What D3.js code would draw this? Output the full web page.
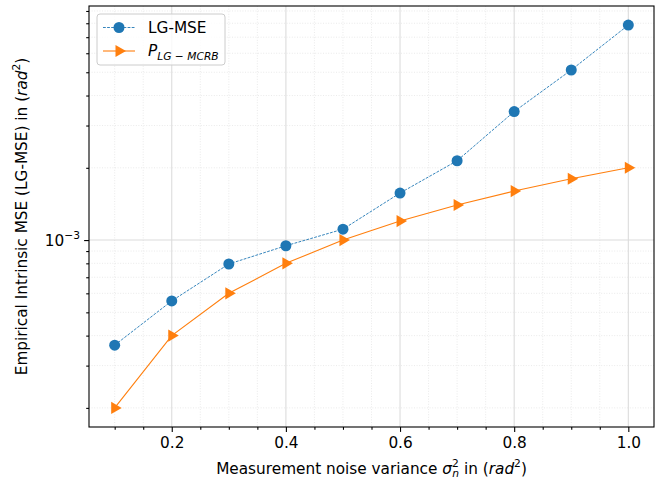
<!DOCTYPE html>
<html>
<head>
<meta charset="utf-8">
<script src="https://cdn.jsdelivr.net/npm/d3@7"></script>
<style>
  body { margin: 0; background: #fff; }
  text { font-family: "DejaVu Sans", sans-serif; fill: #000; }
</style>
</head>
<body>
<div id="chart"></div>
<script>
// noise variance values (x)
var sigma2 = [0.1, 0.2, 0.3, 0.4, 0.5, 0.6, 0.7, 0.8, 0.9, 1.0];
// LG-MSE series
var lgMse = [3.65e-4, 5.58e-4, 7.95e-4, 9.47e-4, 1.11e-3, 1.57e-3, 2.14e-3, 3.43e-3, 5.11e-3, 7.86e-3];
// P_LG-MCRB series
var lgMcrb = [2.0e-4, 4.0e-4, 6.0e-4, 8.0e-4, 1.0e-3, 1.2e-3, 1.4e-3, 1.6e-3, 1.8e-3, 2.0e-3];
var xTicks = [0.2, 0.4, 0.6, 0.8, 1.0];
var xMinor = [0.1, 0.15, 0.25, 0.3, 0.35, 0.45, 0.5, 0.55, 0.65, 0.7, 0.75, 0.85, 0.9, 0.95];
var yTicks = [1e-3];
var yMinor = [2e-4, 3e-4, 4e-4, 5e-4, 6e-4, 7e-4, 8e-4, 9e-4, 2e-3, 3e-3, 4e-3, 5e-3, 6e-3, 7e-3, 8e-3, 9e-3];

var W = 663, H = 483;
var margin = { top: 6, right: 9, bottom: 56, left: 89 };
var width = W - margin.left - margin.right;
var height = H - margin.top - margin.bottom;
var fs = 15.3, fsSmall = 10.7;

var svg = d3.select("#chart").append("svg")
    .attr("width", W).attr("height", H);
var g = svg.append("g")
    .attr("transform", "translate(" + margin.left + "," + margin.top + ")");

var xScale = d3.scaleLinear().domain([0.055, 1.045]).range([0, width]);
var yScale = d3.scaleLog().domain([1.665e-4, 9.44e-3]).range([height, 0]);

// minor grid
g.append("g").selectAll("line").data(xMinor).join("line")
    .attr("x1", d => xScale(d)).attr("x2", d => xScale(d))
    .attr("y1", 0).attr("y2", height)
    .attr("stroke", "#e4e4e4").attr("stroke-width", 0.8)
    .attr("stroke-dasharray", "1,1.6");
g.append("g").selectAll("line").data(yMinor).join("line")
    .attr("y1", d => yScale(d)).attr("y2", d => yScale(d))
    .attr("x1", 0).attr("x2", width)
    .attr("stroke", "#e4e4e4").attr("stroke-width", 0.8)
    .attr("stroke-dasharray", "1,1.6");
// major grid
g.append("g").selectAll("line").data(xTicks).join("line")
    .attr("x1", d => xScale(d)).attr("x2", d => xScale(d))
    .attr("y1", 0).attr("y2", height)
    .attr("stroke", "#dcdcdc").attr("stroke-width", 1.1);
g.append("g").selectAll("line").data(yTicks).join("line")
    .attr("y1", d => yScale(d)).attr("y2", d => yScale(d))
    .attr("x1", 0).attr("x2", width)
    .attr("stroke", "#dcdcdc").attr("stroke-width", 1.1);

// axes
var xAxis = g.append("g").attr("transform", "translate(0," + height + ")")
    .call(d3.axisBottom(xScale).tickValues(xTicks).tickFormat(d3.format(".1f"))
        .tickSize(4.9).tickPadding(4.9).tickSizeOuter(0));
var xAxisMinor = g.append("g").attr("transform", "translate(0," + height + ")")
    .call(d3.axisBottom(xScale).tickValues(xMinor).tickFormat("").tickSize(2.8).tickSizeOuter(0));
var yAxis = g.append("g")
    .call(d3.axisLeft(yScale).tickValues(yTicks).tickFormat("")
        .tickSize(4.9).tickSizeOuter(0));
var yAxisMinor = g.append("g")
    .call(d3.axisLeft(yScale).tickValues(yMinor).tickFormat("").tickSize(2.8).tickSizeOuter(0));
[xAxis, xAxisMinor, yAxis, yAxisMinor].forEach(function (a) {
    a.select(".domain").remove();
    a.selectAll(".tick line").attr("stroke", "#000").attr("stroke-width", 1.1);
    a.selectAll(".tick text").style("font-size", fs + "px")
        .style("font-family", "DejaVu Sans, sans-serif").attr("fill", "#000");
});

// 10^-3 label
var ylab = g.append("text")
    .attr("x", -9).attr("y", yScale(1e-3) + 5.5)
    .attr("text-anchor", "end")
    .style("font-size", fs + "px");
ylab.append("tspan").text("10");
ylab.append("tspan").attr("dy", -7).style("font-size", fsSmall + "px").text("\u22123");

// series lines
var line = d3.line().x(d => xScale(d[0])).y(d => yScale(d[1]));
var blueData = sigma2.map((s, i) => [s, lgMse[i]]);
var orangeData = sigma2.map((s, i) => [s, lgMcrb[i]]);

g.append("path").datum(orangeData).attr("d", line)
    .attr("fill", "none").attr("stroke", "#ff7f0e").attr("stroke-width", 1.1);
g.append("path").datum(blueData).attr("d", line)
    .attr("fill", "none").attr("stroke", "#1f77b4").attr("stroke-width", 0.9)
    .attr("stroke-dasharray", "2.8,1.3");

function triPath(cx, cy, r) {
    return "M" + (cx + r) + "," + cy + "L" + (cx - r * 0.5) + "," + (cy - r * 0.866) +
        "L" + (cx - r * 0.5) + "," + (cy + r * 0.866) + "Z";
}

g.append("g").selectAll("path").data(orangeData).join("path")
    .attr("d", d => triPath(xScale(d[0]), yScale(d[1]), 7))
    .attr("fill", "#ff7f0e");
g.append("g").selectAll("circle").data(blueData).join("circle")
    .attr("cx", d => xScale(d[0])).attr("cy", d => yScale(d[1]))
    .attr("r", 5.5).attr("fill", "#1f77b4");

// frame
g.append("rect").attr("width", width).attr("height", height)
    .attr("fill", "none").attr("stroke", "#000").attr("stroke-width", 1.1);

// legend
var lg = svg.append("g").attr("transform", "translate(97,14)");
lg.append("rect").attr("width", 128).attr("height", 51).attr("rx", 3)
    .attr("fill", "#fff").attr("fill-opacity", 0.8)
    .attr("stroke", "#cccccc").attr("stroke-width", 1);
lg.append("line").attr("x1", 6).attr("x2", 38).attr("y1", 13.5).attr("y2", 13.5)
    .attr("stroke", "#1f77b4").attr("stroke-width", 0.9).attr("stroke-dasharray", "2.8,1.3");
lg.append("circle").attr("cx", 22).attr("cy", 13.5).attr("r", 5.5).attr("fill", "#1f77b4");
lg.append("text").attr("x", 51).attr("y", 19).style("font-size", fs + "px").text("LG-MSE");
lg.append("line").attr("x1", 6).attr("x2", 38).attr("y1", 37).attr("y2", 37)
    .attr("stroke", "#ff7f0e").attr("stroke-width", 1.1);
lg.append("path").attr("d", triPath(22, 37, 7)).attr("fill", "#ff7f0e");
var t2 = lg.append("text").attr("x", 51).attr("y", 42).style("font-size", fs + "px");
t2.append("tspan").style("font-style", "italic").text("P");
t2.append("tspan").attr("dy", 3.5).style("font-size", fsSmall + "px").style("font-style", "italic")
    .text("LG \u2212 MCRB");

// axis labels
var xl = svg.append("text")
    .attr("x", margin.left + width / 2).attr("y", 474)
    .attr("text-anchor", "middle").style("font-size", fs + "px");
xl.append("tspan").text("Measurement noise variance ");
xl.append("tspan").style("font-style", "italic").text("\u03c3");
xl.append("tspan").attr("dy", -7).style("font-size", fsSmall + "px").text("2");
xl.append("tspan").attr("dx", -6.5).attr("dy", 10).style("font-size", fsSmall + "px").style("font-style", "italic").text("n");
xl.append("tspan").attr("dy", -3).text(" in (");
xl.append("tspan").style("font-style", "italic").text("rad");
xl.append("tspan").attr("dy", -7).style("font-size", fsSmall + "px").text("2");
xl.append("tspan").attr("dy", 7).text(")");

var yl = svg.append("text")
    .attr("transform", "translate(27," + (margin.top + height / 2) + ") rotate(-90)")
    .attr("text-anchor", "middle").style("font-size", fs + "px");
yl.append("tspan").text("Empirical Intrinsic MSE (LG-MSE) in (");
yl.append("tspan").style("font-style", "italic").text("rad");
yl.append("tspan").attr("dy", -7).style("font-size", fsSmall + "px").text("2");
yl.append("tspan").attr("dy", 7).text(")");
</script>
</body>
</html>
